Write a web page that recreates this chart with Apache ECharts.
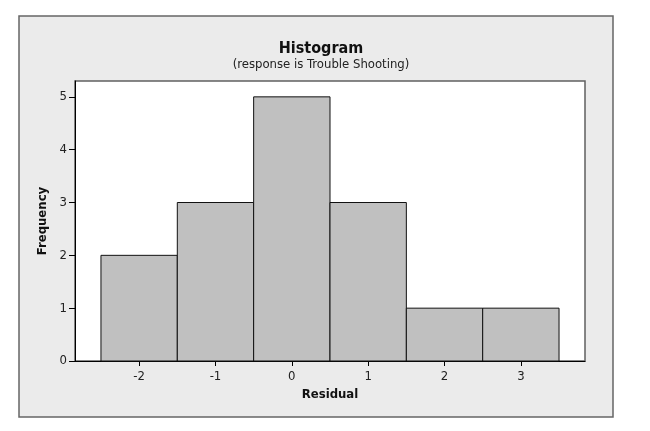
<!DOCTYPE html>
<html>
<head>
<meta charset="utf-8">
<script src="https://cdn.jsdelivr.net/npm/echarts@6/dist/echarts.min.js"></script>
<style>html,body{margin:0;padding:0;background:#fff}#c{width:650px;height:431px}</style>
</head>
<body>
<div id="c"></div>
<script>
const binStart = [-2.5, -1.5, -0.5, 0.5, 1.5, 2.5];
const binEnd = [-1.5, -0.5, 0.5, 1.5, 2.5, 3.5];
const counts = [2, 3, 5, 3, 1, 1];
const xTicks = [-2, -1, 0, 1, 2, 3];
const yTicks = [0, 1, 2, 3, 4, 5];

const FONT = 'Tahoma, "DejaVu Sans Condensed", "DejaVu Sans", sans-serif';
const data = binStart.map((s, i) => [s, binEnd[i], counts[i]]);

const chart = echarts.init(document.getElementById('c'));
chart.setOption({
  backgroundColor: '#ffffff',
  animation: false,
  graphic: [{
    type: 'rect', z: -10, silent: true,
    shape: { x: 19, y: 16, width: 594, height: 401 },
    style: { fill: '#ebebeb', stroke: '#666666', lineWidth: 1.5 }
  }],
  title: {
    text: 'Histogram',
    subtext: '(response is Trouble Shooting)',
    left: 316, top: 36, textAlign: 'center', itemGap: 1,
    textStyle: { fontFamily: FONT, fontSize: 16, fontWeight: 'bold', color: '#111' },
    subtextStyle: { fontFamily: FONT, fontSize: 13, color: '#222' }
  },
  grid: {
    left: 75, right: 65, top: 81, bottom: 70,
    show: true, backgroundColor: '#ffffff', borderColor: '#606060', borderWidth: 1.5
  },
  xAxis: {
    type: 'value', min: -2.84, max: 3.84,
    name: 'Residual', nameLocation: 'middle', nameGap: 27,
    nameTextStyle: { fontFamily: FONT, fontSize: 13, fontWeight: 'bold', color: '#111' },
    axisLine: { show: true, onZero: false, lineStyle: { color: '#000', width: 1 } },
    axisTick: { show: true, length: 5, customValues: xTicks, lineStyle: { color: '#000' } },
    axisLabel: { customValues: xTicks, margin: 9, fontFamily: FONT, fontSize: 13, color: '#222' },
    splitLine: { show: false }
  },
  yAxis: {
    type: 'value', min: 0, max: 5.3,
    name: 'Frequency', nameLocation: 'middle', nameGap: 24, nameRotate: 90,
    nameTextStyle: { fontFamily: FONT, fontSize: 13, fontWeight: 'bold', color: '#111' },
    axisLine: { show: true, onZero: false, lineStyle: { color: '#000', width: 1 } },
    axisTick: { show: true, length: 6, customValues: yTicks, lineStyle: { color: '#000' } },
    axisLabel: { customValues: yTicks, margin: 8, fontFamily: FONT, fontSize: 13, color: '#222' },
    splitLine: { show: false }
  },
  series: [{
    type: 'custom',
    data: data,
    encode: { x: [0, 1], y: 2 },
    renderItem: function (params, api) {
      const p0 = api.coord([api.value(0), 0]);
      const p1 = api.coord([api.value(1), api.value(2)]);
      return {
        type: 'rect',
        shape: { x: p0[0], y: p1[1], width: p1[0] - p0[0], height: p0[1] - p1[1] },
        style: { fill: '#c0c0c0', stroke: '#111', lineWidth: 1 }
      };
    }
  }]
});
</script>
</body>
</html>
